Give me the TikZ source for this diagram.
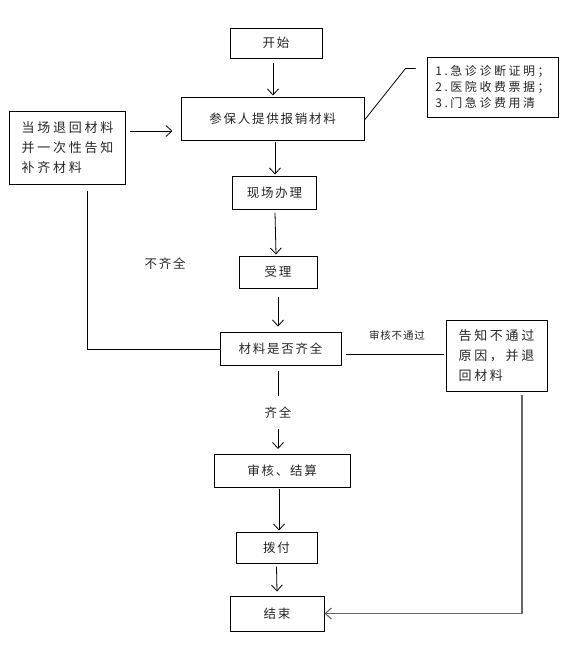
\documentclass[tikz,border=0pt]{standalone}
\usepackage{fontspec}
\setmainfont{Noto Sans CJK SC}[LetterSpace=14]
\newfontfamily\smallcjk{Noto Sans CJK SC}[LetterSpace=8]
\newfontfamily\widecjk{Noto Sans CJK SC}[LetterSpace=21]
\usetikzlibrary{arrows.meta}
\begin{document}
\begin{tikzpicture}[x=1pt,y=-1pt,
  box/.style={draw,line width=1pt,inner sep=0pt,align=center,text=black!85,font=\fontsize{12.5}{20}\selectfont},
  arr/.style={line width=0.8pt,-{Straight Barb[length=6pt,width=11pt]}},
  ln/.style={line width=0.8pt},
  lbl/.style={inner sep=0pt,text=black!85,font=\fontsize{12.5}{20}\selectfont}]
\useasboundingbox (0,0) rectangle (577,657);
\node[box,minimum width=92pt,minimum height=30pt] (start) at (276,43) {开始};
\node[box,minimum width=183pt,minimum height=43pt] (sub) at (272.5,118.5) {参保人提供报销材料};
\node[box,minimum width=131pt,minimum height=60pt,align=left,font=\widecjk\fontsize{12}{16}\selectfont] (list) at (492.5,87) {1.急诊诊断证明；\\2.医院收费票据；\\3.门急诊费用清};
\node[box,minimum width=116pt,minimum height=73pt,align=left,font=\widecjk\fontsize{13}{20}\selectfont] (ret) at (67.5,147.5) {当场退回材料\\并一次性告知\\补齐材料};
\node[box,minimum width=84pt,minimum height=33pt] (onsite) at (274.5,192.5) {现场办理};
\node[box,minimum width=78pt,minimum height=32pt] (accept) at (278,272) {受理};
\node[box,minimum width=121pt,minimum height=33pt] (check) at (280.5,348.5) {材料是否齐全};
\node[box,minimum width=101pt,minimum height=71pt,align=left,font=\widecjk\fontsize{13}{20}\selectfont] (notify) at (496.5,355.5) {告知不通过\\原因，并退\\回材料};
\node[box,minimum width=136pt,minimum height=33pt] (audit) at (282,471) {审核、结算};
\node[box,minimum width=81pt,minimum height=31pt] (pay) at (276.5,547.5) {拨付};
\node[box,minimum width=94pt,minimum height=35pt] (end) at (277,613.5) {结束};
\node[lbl] (nq) at (165,264) {不齐全};
\node[lbl,font=\smallcjk\fontsize{10.5}{14}\selectfont] (nopass) at (397,335) {审核不通过};
\node[lbl] (ok) at (278,413) {齐全};
% connectors
\draw[arr] ([xshift=-3pt,yshift=-4pt]start.south) -- ([xshift=0.5pt,yshift=1pt]sub.north);
\draw[arr] ([xshift=2.5pt,yshift=-1pt]sub.south) -- ([xshift=0.5pt,yshift=1pt]onsite.north);
\draw[arr] ([xshift=4pt,yshift=16.5pt]ret.east) -- ([xshift=-8pt,yshift=-12.5pt]sub.west);
\draw[ln] ([yshift=-1.5pt]sub.east) -- ++(41,-51.5) -- ++(10,0);
\draw[arr] ([xshift=0.5pt,yshift=-3pt]onsite.south) -- ([xshift=-2pt,yshift=1pt]accept.north);
\draw[arr] ([yshift=-8pt]accept.south) -- ([xshift=-2.5pt,yshift=5pt]check.north);
\draw[ln] ([xshift=19.5pt,yshift=-6pt]ret.south) |- ([yshift=-1pt]check.west);
\draw[ln] ([xshift=4pt,yshift=-5.5pt]check.east) -- ([xshift=-2pt,yshift=-5.5pt]check.east -| notify.west);
\draw[ln] ([xshift=-2.5pt,yshift=-5pt]check.south) -- ([xshift=-2.5pt,yshift=-30pt]check.south);
\draw[arr] ([yshift=-10pt]ok.south) -- ([xshift=-4pt,yshift=5pt]audit.north);
\draw[arr] ([xshift=-3pt,yshift=-1pt]audit.south) -- ([xshift=2.5pt,yshift=1pt]pay.north);
\draw[arr] ([yshift=-3pt]pay.south) -- ([yshift=4pt]end.north);
\draw[arr,gray!80!black,line width=1.1pt] ([xshift=25.5pt,yshift=-3pt]notify.south) |- (end.east);
\end{tikzpicture}
\end{document}
